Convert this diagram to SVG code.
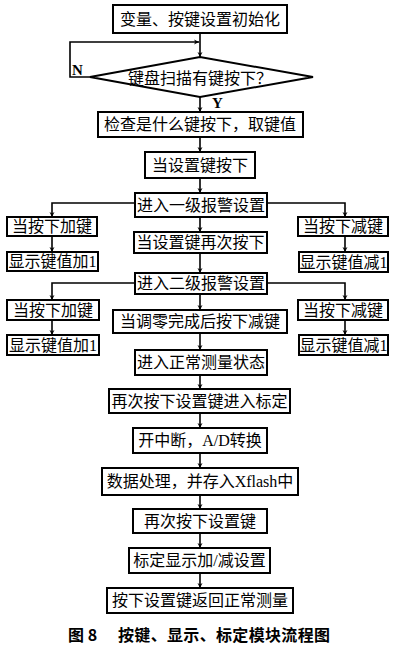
<svg xmlns="http://www.w3.org/2000/svg" width="400" height="649" viewBox="0 0 400 649">
<style>
.box{fill:#fff;stroke:#000;stroke-width:2}
.t{font-family:"Liberation Serif","Noto Sans CJK SC",serif;font-size:16px;text-anchor:middle;dominant-baseline:central;fill:#000}
.lbl{font-family:"Liberation Serif",serif;font-size:15px;font-weight:bold;fill:#000}
.c{fill:none;stroke:#000;stroke-width:1.6}
.cap{font-family:"Noto Sans CJK SC",sans-serif;font-size:16px;font-weight:bold;fill:#000}
</style>
<defs>
<marker id="ah" viewBox="0 0 10 10" refX="10" refY="5" markerWidth="5" markerHeight="7" markerUnits="userSpaceOnUse" orient="auto">
<path d="M0,0 L10,5 L0,10 L3,5 Z" fill="#000"/>
</marker>
</defs>
<rect width="400" height="649" fill="#fff"/>
<g id="connectors">
<path class="c" d="M200,33 V57" marker-end="url(#ah)"/>
<path class="c" d="M90,77 H70 V42 H199" marker-end="url(#ah)"/>
<path class="c" d="M200,97 V112" marker-end="url(#ah)"/>
<path class="c" d="M200,137 V152" marker-end="url(#ah)"/>
<path class="c" d="M200,178 V193" marker-end="url(#ah)"/>
<path class="c" d="M200,217 V232" marker-end="url(#ah)"/>
<path class="c" d="M200,253 V273" marker-end="url(#ah)"/>
<path class="c" d="M200,294 V310" marker-end="url(#ah)"/>
<path class="c" d="M200,333 V350" marker-end="url(#ah)"/>
<path class="c" d="M200,375 V389" marker-end="url(#ah)"/>
<path class="c" d="M200,413 V428" marker-end="url(#ah)"/>
<path class="c" d="M200,453 V468" marker-end="url(#ah)"/>
<path class="c" d="M200,495 V509" marker-end="url(#ah)"/>
<path class="c" d="M200,533 V548" marker-end="url(#ah)"/>
<path class="c" d="M200,573 V588" marker-end="url(#ah)"/>
<path class="c" d="M135,203 H52 V217" marker-end="url(#ah)"/>
<path class="c" d="M267,203 H345 V217" marker-end="url(#ah)"/>
<path class="c" d="M52,236 V252" marker-end="url(#ah)"/>
<path class="c" d="M345,236 V252" marker-end="url(#ah)"/>
<path class="c" d="M135,283 H52 V300" marker-end="url(#ah)"/>
<path class="c" d="M267,283 H345 V300" marker-end="url(#ah)"/>
<path class="c" d="M52,320 V335" marker-end="url(#ah)"/>
<path class="c" d="M345,320 V335" marker-end="url(#ah)"/>
</g>
<g id="n1"><rect class="box" x="113" y="5" width="174" height="28"/><text class="t" x="200" y="19">变量、按键设置初始化</text></g>
<g id="d1"><polygon class="box" points="90,77 200,57 313,77 200,97"/><text class="t" x="200" y="78">键盘扫描有键按下？</text>
<text class="lbl" x="72" y="75">N</text><text class="lbl" x="212" y="108">Y</text></g>
<g id="n3"><rect class="box" x="98" y="112" width="205" height="25"/><text class="t" x="200" y="124.5">检查是什么键按下，取键值</text></g>
<g id="n4"><rect class="box" x="145" y="152" width="110" height="26"/><text class="t" x="200" y="165">当设置键按下</text></g>
<g id="n5"><rect class="box" x="135" y="193" width="132" height="24"/><text class="t" x="201" y="205">进入一级报警设置</text></g>
<g id="l1"><rect class="box" x="7" y="217" width="90" height="19"/><text class="t" x="52" y="226.5">当按下加键</text></g>
<g id="r1"><rect class="box" x="298" y="217" width="90" height="19"/><text class="t" x="343" y="226.5">当按下减键</text></g>
<g id="n6"><rect class="box" x="134" y="232" width="133" height="21"/><text class="t" x="200.5" y="242.5">当设置键再次按下</text></g>
<g id="l2"><rect class="box" x="7" y="252" width="91" height="19"/><text class="t" x="52.5" y="261.5">显示键值加1</text></g>
<g id="r2"><rect class="box" x="299" y="252" width="89" height="20"/><text class="t" x="343.5" y="262">显示键值减1</text></g>
<g id="n7"><rect class="box" x="135" y="273" width="132" height="21"/><text class="t" x="201" y="283.5">进入二级报警设置</text></g>
<g id="l3"><rect class="box" x="7" y="300" width="92" height="20"/><text class="t" x="53" y="310">当按下加键</text></g>
<g id="m1"><rect class="box" x="113" y="310" width="174" height="23"/><text class="t" x="200" y="321.5">当调零完成后按下减键</text></g>
<g id="r3"><rect class="box" x="298" y="300" width="90" height="20"/><text class="t" x="343" y="310">当按下减键</text></g>
<g id="l4"><rect class="box" x="7" y="335" width="92" height="20"/><text class="t" x="53" y="345">显示键值加1</text></g>
<g id="r4"><rect class="box" x="299" y="335" width="89" height="20"/><text class="t" x="343.5" y="345">显示键值减1</text></g>
<g id="n8"><rect class="box" x="135" y="350" width="132" height="25"/><text class="t" x="201" y="362.5">进入正常测量状态</text></g>
<g id="n9"><rect class="box" x="109" y="389" width="181" height="24"/><text class="t" x="199.5" y="401">再次按下设置键进入标定</text></g>
<g id="n10"><rect class="box" x="133" y="428" width="134" height="25"/><text class="t" x="200" y="440.5">开中断，A/D转换</text></g>
<g id="n11"><rect class="box" x="102" y="468" width="196" height="27"/><text class="t" x="200" y="481.5">数据处理，并存入Xflash中</text></g>
<g id="n12"><rect class="box" x="133" y="509" width="134" height="24"/><text class="t" x="200" y="521">再次按下设置键</text></g>
<g id="n13"><rect class="box" x="129" y="548" width="141" height="25"/><text class="t" x="199.5" y="560.5">标定显示加/减设置</text></g>
<g id="n14"><rect class="box" x="107" y="588" width="186" height="25"/><text class="t" x="200" y="600.5">按下设置键返回正常测量</text></g>
<text class="cap" x="68" y="641">图 8</text>
<text class="cap" x="118" y="641" textLength="212">按键、显示、标定模块流程图</text>
</svg>
